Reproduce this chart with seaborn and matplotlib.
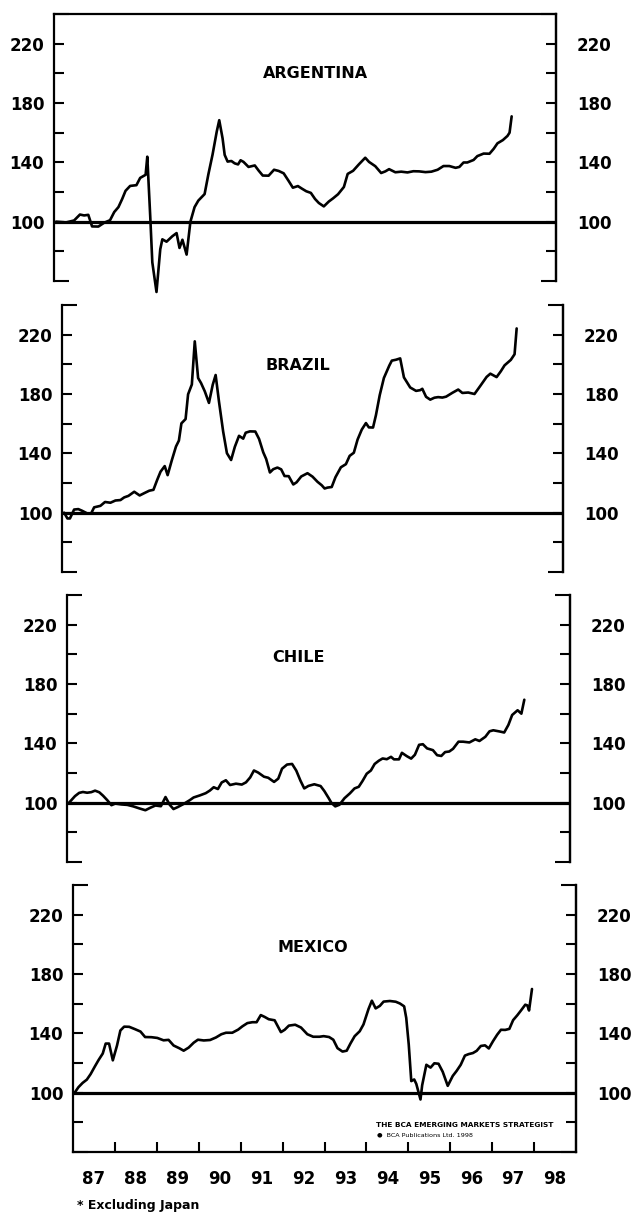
import matplotlib
matplotlib.use("Agg")
import matplotlib.pyplot as plt
import pandas as pd
import seaborn as sns


# values: fractional year, index level (1987 = 100)
arg_years = [1987.05, 1987.29, 1987.48, 1987.62, 1987.72, 1987.82, 1987.91, 1988.06, 1988.20, 1988.34,
             1988.44, 1988.54, 1988.63, 1988.71, 1988.82, 1988.97, 1989.06, 1989.19, 1989.23, 1989.30,
             1989.35, 1989.45, 1989.54, 1989.59, 1989.69, 1989.83, 1989.93, 1990.00, 1990.07, 1990.17,
             1990.26, 1990.36, 1990.45, 1990.60, 1990.69, 1990.79, 1990.89, 1990.95, 1991.03, 1991.08,
             1991.15, 1991.24, 1991.32, 1991.40, 1991.46, 1991.53, 1991.65, 1991.80, 1991.89, 1991.99,
             1992.13, 1992.26, 1992.37, 1992.49, 1992.61, 1992.71, 1992.83, 1992.93, 1993.03, 1993.14,
             1993.24, 1993.33, 1993.45, 1993.57, 1993.67, 1993.79, 1993.93, 1994.02, 1994.15, 1994.29,
             1994.44, 1994.53, 1994.68, 1994.82, 1994.92, 1995.01, 1995.16, 1995.30, 1995.45, 1995.59,
             1995.73, 1995.88, 1996.02, 1996.17, 1996.31, 1996.45, 1996.60, 1996.69, 1996.79, 1996.88,
             1997.03, 1997.12, 1997.27, 1997.41, 1997.51, 1997.60, 1997.73, 1997.84, 1997.89, 1997.94]
arg_values = [100.0, 99.5, 100.8, 104.8, 104.2, 104.6, 96.8, 96.7, 99.3, 101.0,
              106.5, 109.8, 115.3, 120.8, 124.1, 124.6, 129.5, 131.6, 143.8, 103.8,
              72.6, 52.6, 81.4, 88.1, 86.5, 90.2, 92.3, 82.3, 87.8, 77.8,
              99.9, 109.8, 114.2, 118.6, 131.9, 145.2, 160.7, 168.4, 156.1, 145.0,
              140.5, 140.9, 139.3, 138.6, 141.4, 140.3, 136.9, 137.9, 134.5, 131.1,
              131.0, 135.0, 134.2, 132.6, 127.4, 122.9, 124.0, 122.2, 120.5, 119.4,
              115.3, 112.6, 110.3, 113.6, 115.7, 118.5, 123.4, 132.2, 134.3, 138.7,
              143.1, 140.3, 137.4, 132.8, 133.9, 135.4, 133.3, 133.7, 133.2, 134.0,
              133.9, 133.4, 133.7, 135.0, 137.5, 137.5, 136.3, 136.9, 139.9, 139.9,
              141.6, 144.2, 145.9, 145.8, 149.1, 152.8, 155.0, 157.8, 160.0, 171.0]

bra_years = [1987.05, 1987.13, 1987.19, 1987.29, 1987.39, 1987.48, 1987.61, 1987.70, 1987.77, 1987.92,
             1988.03, 1988.16, 1988.28, 1988.40, 1988.49, 1988.59, 1988.73, 1988.86, 1988.98, 1989.09,
             1989.19, 1989.28, 1989.36, 1989.46, 1989.53, 1989.63, 1989.73, 1989.80, 1989.86, 1989.96,
             1990.02, 1990.11, 1990.18, 1990.26, 1990.33, 1990.42, 1990.52, 1990.61, 1990.68, 1990.76,
             1990.86, 1990.95, 1991.05, 1991.14, 1991.24, 1991.34, 1991.40, 1991.50, 1991.63, 1991.72,
             1991.82, 1991.89, 1991.98, 1992.06, 1992.16, 1992.25, 1992.33, 1992.43, 1992.54, 1992.62,
             1992.73, 1992.88, 1993.00, 1993.12, 1993.22, 1993.29, 1993.36, 1993.46, 1993.55, 1993.68,
             1993.80, 1993.89, 1993.99, 1994.08, 1994.18, 1994.28, 1994.35, 1994.45, 1994.52, 1994.61,
             1994.71, 1994.84, 1994.90, 1995.00, 1995.10, 1995.19, 1995.34, 1995.48, 1995.58, 1995.63,
             1995.72, 1995.82, 1995.92, 1996.01, 1996.11, 1996.20, 1996.35, 1996.49, 1996.59, 1996.73,
             1996.88, 1997.02, 1997.17, 1997.26, 1997.41, 1997.51, 1997.60, 1997.75, 1997.84, 1997.89]
bra_values = [100.0, 96.1, 96.1, 102.1, 102.4, 101.3, 99.4, 99.6, 103.6, 104.6,
              107.2, 106.7, 108.2, 108.5, 110.3, 111.3, 114.1, 111.6, 113.3, 114.8,
              115.4, 122.1, 127.6, 131.4, 125.3, 135.3, 144.6, 148.6, 160.2, 163.1,
              179.8, 186.4, 215.5, 190.8, 187.4, 181.8, 174.0, 186.2, 192.8, 174.9,
              154.7, 140.1, 135.5, 144.4, 151.8, 149.9, 153.9, 154.8, 154.7, 149.7,
              140.7, 136.2, 127.1, 129.3, 130.4, 129.2, 124.7, 124.6, 119.0, 120.5,
              124.4, 126.6, 124.3, 120.8, 118.5, 116.3, 116.9, 117.3, 123.9, 130.6,
              132.7, 138.3, 140.4, 149.3, 156.0, 160.4, 157.5, 157.4, 165.8, 179.2,
              190.8, 199.2, 202.5, 203.1, 204.0, 191.2, 184.4, 182.1, 182.6, 183.5,
              178.1, 176.2, 177.5, 177.9, 177.6, 178.2, 180.8, 183.0, 180.7, 181.0,
              180.0, 185.5, 191.5, 193.7, 191.4, 195.3, 199.3, 203.0, 206.8, 224.2]

chi_years = [1987.05, 1987.19, 1987.29, 1987.38, 1987.48, 1987.58, 1987.67, 1987.77, 1987.86, 1987.96,
             1988.06, 1988.15, 1988.30, 1988.44, 1988.58, 1988.73, 1988.87, 1988.99, 1989.11, 1989.24,
             1989.35, 1989.45, 1989.54, 1989.64, 1989.78, 1989.93, 1990.02, 1990.17, 1990.31, 1990.41,
             1990.50, 1990.60, 1990.69, 1990.79, 1990.89, 1991.03, 1991.17, 1991.27, 1991.37, 1991.46,
             1991.56, 1991.70, 1991.80, 1991.94, 1992.04, 1992.13, 1992.25, 1992.37, 1992.47, 1992.57,
             1992.66, 1992.76, 1992.90, 1993.05, 1993.14, 1993.24, 1993.31, 1993.40, 1993.50, 1993.62,
             1993.75, 1993.86, 1993.96, 1994.05, 1994.15, 1994.25, 1994.34, 1994.44, 1994.53, 1994.63,
             1994.73, 1994.80, 1994.92, 1994.99, 1995.11, 1995.21, 1995.30, 1995.40, 1995.49, 1995.59,
             1995.73, 1995.83, 1995.93, 1996.02, 1996.12, 1996.21, 1996.34, 1996.45, 1996.60, 1996.74,
             1996.84, 1996.98, 1997.08, 1997.17, 1997.32, 1997.43, 1997.53, 1997.62, 1997.75, 1997.84,
             1997.91]
chi_values = [100.0, 104.4, 106.6, 107.2, 106.7, 107.1, 108.1, 107.0, 104.7, 101.7,
              98.3, 99.4, 98.8, 98.5, 97.5, 96.1, 94.9, 96.6, 98.1, 97.6,
              103.8, 98.6, 95.7, 97.0, 99.1, 101.7, 103.5, 104.9, 106.4, 108.2,
              110.4, 109.2, 113.6, 115.1, 111.9, 112.8, 112.2, 113.7, 117.0, 121.7,
              120.3, 117.5, 116.8, 114.0, 116.2, 122.9, 125.7, 126.1, 121.6, 114.8,
              109.6, 111.3, 112.4, 111.2, 107.8, 103.2, 99.8, 97.5, 98.6, 103.0,
              106.3, 109.6, 110.7, 114.6, 119.5, 121.7, 126.1, 128.3, 129.8, 129.3,
              130.9, 129.2, 129.2, 133.6, 131.3, 129.7, 132.3, 139.0, 139.4, 136.6,
              135.4, 132.0, 131.5, 134.1, 134.5, 136.3, 141.1, 141.1, 140.6, 142.7,
              141.6, 144.4, 148.1, 148.8, 148.0, 147.3, 152.4, 159.1, 162.3, 160.0,
              169.4]

mex_years = [1987.04, 1987.13, 1987.23, 1987.33, 1987.42, 1987.52, 1987.61, 1987.71, 1987.78, 1987.86,
             1987.95, 1988.05, 1988.13, 1988.22, 1988.34, 1988.48, 1988.61, 1988.72, 1988.87, 1989.01,
             1989.16, 1989.28, 1989.40, 1989.54, 1989.64, 1989.76, 1989.88, 1989.98, 1990.12, 1990.27,
             1990.41, 1990.54, 1990.65, 1990.80, 1990.94, 1991.04, 1991.16, 1991.28, 1991.38, 1991.48,
             1991.57, 1991.67, 1991.81, 1991.96, 1992.05, 1992.15, 1992.30, 1992.44, 1992.59, 1992.73,
             1992.88, 1992.98, 1993.11, 1993.21, 1993.31, 1993.43, 1993.53, 1993.62, 1993.72, 1993.84,
             1993.93, 1994.05, 1994.13, 1994.22, 1994.32, 1994.41, 1994.56, 1994.70, 1994.80, 1994.90,
             1994.95, 1995.01, 1995.07, 1995.14, 1995.19, 1995.29, 1995.33, 1995.43, 1995.53, 1995.62,
             1995.72, 1995.82, 1995.94, 1996.06, 1996.15, 1996.25, 1996.35, 1996.44, 1996.54, 1996.63,
             1996.73, 1996.83, 1996.92, 1997.02, 1997.12, 1997.21, 1997.31, 1997.41, 1997.50, 1997.60,
             1997.69, 1997.79, 1997.84, 1997.88, 1997.95]
mex_values = [100.0, 103.7, 106.6, 108.8, 112.5, 117.6, 122.0, 126.4, 133.1, 133.1,
              121.8, 131.8, 141.9, 144.5, 144.4, 142.8, 141.2, 137.5, 137.4, 136.9,
              135.3, 135.6, 131.8, 129.9, 128.3, 130.4, 133.7, 135.7, 135.2, 135.5,
              137.2, 139.4, 140.4, 140.4, 142.5, 144.7, 146.9, 147.5, 147.5, 152.3,
              151.1, 149.5, 148.8, 140.8, 142.4, 145.2, 145.8, 143.9, 139.4, 137.7,
              137.7, 138.1, 137.5, 135.7, 130.0, 127.7, 128.3, 133.2, 138.1, 141.4,
              146.0, 156.4, 162.0, 156.8, 158.5, 161.4, 161.8, 161.3, 160.1, 158.2,
              150.4, 132.4, 107.8, 108.9, 105.9, 95.4, 105.0, 118.8, 116.9, 119.8,
              119.5, 114.1, 104.6, 111.3, 114.6, 118.8, 125.0, 126.0, 126.7, 128.2,
              131.5, 131.9, 129.8, 134.7, 139.1, 142.4, 142.3, 143.0, 148.9, 152.2,
              155.5, 159.3, 158.8, 155.4, 169.9]

countries = ["ARGENTINA", "BRAZIL", "CHILE", "MEXICO"]
year_labels = ["87", "88", "89", "90", "91", "92", "93", "94", "95", "96", "97", "98"]

series = {
    "ARGENTINA": (arg_years, arg_values),
    "BRAZIL": (bra_years, bra_values),
    "CHILE": (chi_years, chi_values),
    "MEXICO": (mex_years, mex_values),
}

# panel boxes in figure pixels: left, right, top, bottom
boxes = [(54, 556, 14, 281), (62, 563, 305, 572), (67, 570, 595, 862), (73, 576, 885, 1152)]
title_spots = [(0.52, 200), (0.47, 199), (0.46, 198), (0.477, 198)]

W, H = 631, 1212

sns.set_theme(style="white")
plt.rcParams["font.family"] = ["DejaVu Sans"]
plt.rcParams["font.weight"] = "bold"
plt.rcParams["text.color"] = "black"
plt.rcParams["axes.edgecolor"] = "black"
plt.rcParams["xtick.color"] = "black"
plt.rcParams["ytick.color"] = "black"

fig = plt.figure(figsize=(W / 100, H / 100), dpi=100, facecolor="white")

ylabels = ["", "100", "", "140", "", "180", "", "220"]

for i, name in enumerate(countries):
    l, r, t, b = boxes[i]
    ax = fig.add_axes([l / W, 1 - b / H, (r - l) / W, (b - t) / H])
    yrs, vals = series[name]
    df = pd.DataFrame({"year": yrs, "value": vals})
    sns.lineplot(data=df, x="year", y="value", ax=ax, color="black", lw=1.9, sort=False)
    for ln in ax.lines:
        ln.set_clip_on(False)
    ax.axhline(100, color="black", lw=2.3)

    ax.set_xlim(1987, 1999)
    ax.set_ylim(60, 240)
    ax.set_xlabel("")
    ax.set_ylabel("")

    for side in ["left", "right", "top", "bottom"]:
        ax.spines[side].set_linewidth(1.6)
        ax.spines[side].set_color("black")
    ax.spines["top"].set_visible(i == 0)
    ax.spines["bottom"].set_visible(i == 3)

    ax2 = ax.twinx()
    ax2.set_ylim(60, 240)
    ax2.spines["top"].set_visible(False)
    ax2.spines["bottom"].set_visible(False)
    ax2.spines["left"].set_visible(False)
    ax2.spines["right"].set_linewidth(1.6)
    ax2.spines["right"].set_color("black")

    for a, pad in [(ax, 7), (ax2, 15)]:
        a.set_yticks(range(80, 221, 20))
        a.set_yticklabels(ylabels)
        a.set_yticks([60, 240], minor=True)
        a.tick_params(axis="y", which="major", direction="in", length=7.5, width=1.5,
                      labelsize=12, pad=pad)
        a.tick_params(axis="y", which="minor", direction="in", length=11, width=1.5)
    ax.tick_params(axis="y", which="both", left=True, right=False, labelleft=True)
    ax2.tick_params(axis="y", which="both", left=False, right=True, labelright=True)

    tx, ty = title_spots[i]
    ax.text(tx, ty, name, transform=ax.get_yaxis_transform(), ha="center", va="center",
            fontsize=11.5, fontweight="bold")

    if i < 3:
        ax.set_xticks([])
    else:
        ax.set_xticks(range(1988, 1999))
        ax.set_xticklabels([])
        ax.set_xticks([1987.5 + k for k in range(12)], minor=True)
        ax.set_xticklabels(year_labels, minor=True)
        ax.tick_params(axis="x", which="major", direction="in", bottom=True, length=7.5, width=1.5)
        ax.tick_params(axis="x", which="minor", bottom=True, length=0, labelsize=12, pad=13)
        ax.text(1994.23, 78.5, "THE BCA EMERGING MARKETS STRATEGIST", fontsize=5.3,
                fontweight="bold", ha="left", va="center")
        ax.text(1994.25, 71.5, "\u25cf  BCA Publications Ltd. 1998", fontsize=4.6,
                fontweight="normal", ha="left", va="center")

fig.text(77 / W, 1 - 1205 / H, "* Excluding Japan", fontsize=9, fontweight="bold",
         ha="left", va="center")

fig.savefig("out.png", dpi=100, facecolor="white")
